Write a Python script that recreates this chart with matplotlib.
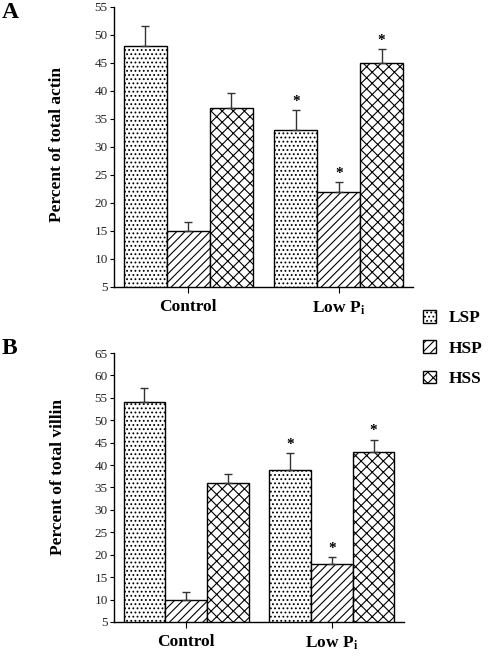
import matplotlib
matplotlib.use("Agg")
import matplotlib.pyplot as plt
import numpy as np

plt.rcParams['font.family'] = ['Liberation Serif', 'DejaVu Serif']
plt.rcParams['mathtext.fontset'] = 'stix'
plt.rcParams['hatch.linewidth'] = 0.8

groups = ['Control', 'Low P$_\\mathbf{i}$']
fractions = ['LSP', 'HSP', 'HSS']
hatches = ['....', '////', 'xxx']

# panel A: percent of total actin
actin_mean = {'LSP': [48, 33], 'HSP': [15, 22], 'HSS': [37, 45]}
actin_err = {'LSP': [3.6, 3.6], 'HSP': [1.6, 1.7], 'HSS': [2.6, 2.5]}
# panel B: percent of total villin
villin_mean = {'LSP': [54, 39], 'HSP': [10, 18], 'HSS': [36, 43]}
villin_err = {'LSP': [3.3, 3.6], 'HSP': [1.7, 1.4], 'HSS': [1.9, 2.7]}
# significance marks (Low Pi vs control)
signif = [False, True]

fig = plt.figure(figsize=(4.89, 6.57), dpi=100)
axA = fig.add_axes([0.2331, 0.5632, 0.6115, 0.4262])
axB = fig.add_axes([0.2331, 0.0533, 0.5930, 0.4094])

group_x = np.array([1.0, 4.5])
offsets = [-1, 0, 1]


def draw(ax, means, errs, ymax, ylabel, label_y):
    handles = []
    for off, name, h in zip(offsets, fractions, hatches):
        x = group_x + off
        b = ax.bar(x, means[name], width=1.0, color='white', edgecolor='black',
                   hatch=h, linewidth=1.0, label=name, zorder=2)
        handles.append(b)
        ax.errorbar(x, means[name], yerr=[np.zeros(2), errs[name]], fmt='none',
                    ecolor='0.2', elinewidth=1.0, capsize=3, capthick=1.0, zorder=3)
        for xi, m, e, s in zip(x, means[name], errs[name], signif):
            if s:
                ax.text(xi, m + e + ymax * 0.008, '*', ha='center', va='bottom',
                        fontsize=11, fontweight='bold')
    ax.set_xlim(-0.73, 6.23)
    ax.set_ylim(5, ymax)
    ax.set_yticks(np.arange(5, ymax + 1, 5))
    ax.set_xticks(group_x)
    ax.set_xticklabels(groups, fontsize=12.5, fontweight='bold')
    ax.tick_params(axis='y', labelsize=9.5, length=3, width=0.8, pad=1.5,
                   labelcolor='0.15')
    ax.tick_params(axis='x', length=4, width=0.8, pad=5)
    for side in ['top', 'right']:
        ax.spines[side].set_visible(False)
    ax.spines['left'].set_linewidth(1.0)
    ax.spines['bottom'].set_linewidth(1.0)
    ax.set_ylabel(ylabel, fontsize=12.5, fontweight='bold')
    ax.yaxis.set_label_coords(-0.165, label_y)
    return handles


hA = draw(axA, actin_mean, actin_err, 55, 'Percent of total actin', 0.51)
draw(axB, villin_mean, villin_err, 65, 'Percent of total villin', 0.54)

fig.text(0.004, 1 - 12 / 657, 'A', fontsize=17, fontweight='bold', va='center')
fig.text(0.004, 1 - 349 / 657, 'B', fontsize=17, fontweight='bold', va='center')

leg = fig.legend(handles=hA, labels=fractions, loc='upper left',
                 bbox_to_anchor=(0.866, 1 - 310 / 657), frameon=False,
                 handlelength=0.75, handleheight=0.75, handletextpad=0.7,
                 labelspacing=0.8, borderpad=0, borderaxespad=0,
                 prop={'size': 12.5, 'weight': 'bold'})

plt.savefig('out.png', dpi=100)
